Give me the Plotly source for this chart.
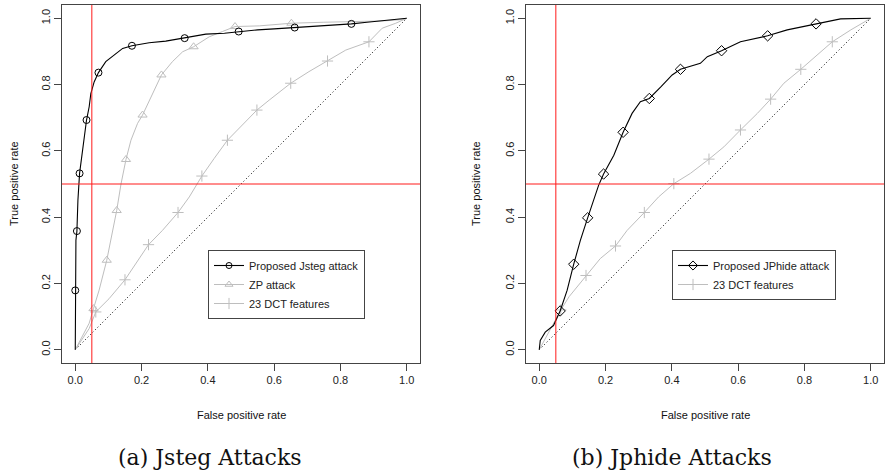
import plotly.graph_objects as go

# ---------------- data ----------------
# (a) Jsteg attacks
jsteg_x = [0, 0, 0, 0.002, 0.005, 0.008, 0.013, 0.027, 0.034, 0.042, 0.047, 0.057, 0.07,
           0.092, 0.117, 0.143, 0.171, 0.223, 0.273, 0.33, 0.394, 0.45, 0.493, 0.55, 0.60,
           0.662, 0.72, 0.78, 0.833, 0.88, 0.93, 0.97, 1.0]
jsteg_y = [0, 0.179, 0.26, 0.33, 0.358, 0.45, 0.532, 0.632, 0.693, 0.733, 0.773, 0.808, 0.836,
           0.869, 0.889, 0.909, 0.917, 0.926, 0.931, 0.94, 0.952, 0.955, 0.96, 0.965, 0.968,
           0.972, 0.975, 0.978, 0.983, 0.988, 0.993, 0.997, 1.0]
jsteg_mx = [0, 0.005, 0.013, 0.034, 0.07, 0.171, 0.33, 0.493, 0.662, 0.833]
jsteg_my = [0.179, 0.358, 0.532, 0.693, 0.836, 0.917, 0.94, 0.96, 0.972, 0.983]

zp_x = [0, 0.02, 0.042, 0.055, 0.072, 0.095, 0.112, 0.125, 0.138, 0.153, 0.168, 0.188, 0.203,
        0.228, 0.26, 0.293, 0.324, 0.357, 0.404, 0.444, 0.482, 0.555, 0.652, 0.75, 0.85,
        0.93, 0.987, 1.0]
zp_y = [0, 0.04, 0.08, 0.124, 0.18, 0.27, 0.35, 0.42, 0.50, 0.574, 0.632, 0.683, 0.708,
        0.763, 0.829, 0.869, 0.899, 0.914, 0.944, 0.96, 0.975, 0.977, 0.985, 0.988, 0.99,
        0.992, 0.996, 1.0]
zp_mx = [0.055, 0.095, 0.125, 0.153, 0.203, 0.26, 0.357, 0.482, 0.652]
zp_my = [0.124, 0.27, 0.42, 0.574, 0.708, 0.829, 0.914, 0.975, 0.985]

dcta_x = [0, 0.012, 0.042, 0.062, 0.102, 0.15, 0.193, 0.221, 0.263, 0.31, 0.344, 0.382, 0.419,
          0.459, 0.504, 0.548, 0.585, 0.65, 0.705, 0.761, 0.816, 0.886, 0.926, 0.967, 1.0]
dcta_y = [0, 0.018, 0.064, 0.114, 0.154, 0.211, 0.275, 0.317, 0.36, 0.414, 0.461, 0.524, 0.577,
          0.632, 0.678, 0.723, 0.753, 0.804, 0.839, 0.871, 0.904, 0.929, 0.97, 0.985, 1.0]
dcta_mx = [0.062, 0.15, 0.221, 0.31, 0.382, 0.459, 0.548, 0.65, 0.761, 0.886]
dcta_my = [0.114, 0.211, 0.317, 0.414, 0.524, 0.632, 0.723, 0.804, 0.871, 0.929]

# (b) Jphide attacks
jph_x = [0, 0.003, 0.018, 0.043, 0.063, 0.084, 0.104, 0.124, 0.146, 0.164, 0.179, 0.194, 0.225,
         0.253, 0.28, 0.305, 0.332, 0.366, 0.401, 0.426, 0.486, 0.507, 0.55, 0.607, 0.689,
         0.748, 0.835, 0.909, 1.0]
jph_y = [0, 0.028, 0.053, 0.073, 0.117, 0.179, 0.258, 0.33, 0.398, 0.451, 0.496, 0.53, 0.587,
         0.656, 0.713, 0.748, 0.758, 0.792, 0.829, 0.846, 0.864, 0.884, 0.902, 0.929, 0.947,
         0.965, 0.983, 0.998, 1.0]
jph_mx = [0.063, 0.104, 0.146, 0.194, 0.253, 0.332, 0.426, 0.55, 0.689, 0.835]
jph_my = [0.117, 0.258, 0.398, 0.53, 0.656, 0.758, 0.846, 0.902, 0.947, 0.983]

dctb_x = [0, 0.033, 0.065, 0.09, 0.141, 0.184, 0.23, 0.265, 0.317, 0.36, 0.406, 0.456, 0.512,
          0.557, 0.607, 0.658, 0.698, 0.738, 0.789, 0.839, 0.884, 0.94, 1.0]
dctb_y = [0, 0.063, 0.12, 0.16, 0.224, 0.275, 0.313, 0.36, 0.414, 0.461, 0.501, 0.532, 0.575,
          0.612, 0.663, 0.713, 0.756, 0.804, 0.846, 0.889, 0.929, 0.965, 1.0]
dctb_mx = [0.065, 0.141, 0.23, 0.317, 0.406, 0.512, 0.607, 0.698, 0.789, 0.884]
dctb_my = [0.12, 0.224, 0.313, 0.414, 0.501, 0.575, 0.663, 0.756, 0.846, 0.929]

diag = [0, 1]
ticks = [0.0, 0.2, 0.4, 0.6, 0.8, 1.0]
tick_text = ["0.0", "0.2", "0.4", "0.6", "0.8", "1.0"]
fpr_cut = 0.05
tpr_cut = 0.5

GREY = "#BEBEBE"
BLACK = "black"
RED = "#FF1A1A"
FONT = "Liberation Sans, Arial, sans-serif"
SERIF = "DejaVu Serif, serif"

fig = go.Figure()


def add_curve(x, y, mx, my, color, symbol, msize, xa, ya, width=1):
    fig.add_trace(go.Scatter(x=x, y=y, mode="lines", line=dict(color=color, width=width),
                             xaxis=xa, yaxis=ya, showlegend=False, hoverinfo="skip"))
    fig.add_trace(go.Scatter(x=mx, y=my, mode="markers",
                             marker=dict(symbol=symbol, size=msize, color=color,
                                         line=dict(color=color, width=1)),
                             xaxis=xa, yaxis=ya, showlegend=False, hoverinfo="skip"))


def add_legend(name, color, symbol, msize, legend, width=1):
    fig.add_trace(go.Scatter(x=[None], y=[None], mode="lines+markers", name=name,
                             line=dict(color=color, width=width),
                             marker=dict(symbol=symbol, size=msize, color=color,
                                         line=dict(color=color, width=1)),
                             legend=legend, xaxis="x", yaxis="y"))


# diagonals
for xa, ya in (("x", "y"), ("x2", "y2")):
    fig.add_trace(go.Scatter(x=diag, y=diag, mode="lines",
                             line=dict(color=BLACK, width=1, dash="1px,2.5px"),
                             xaxis=xa, yaxis=ya, showlegend=False, hoverinfo="skip"))

# (a)
add_curve(dcta_x, dcta_y, dcta_mx, dcta_my, GREY, "cross-thin-open", 8, "x", "y")
add_curve(zp_x, zp_y, zp_mx, zp_my, GREY, "triangle-up-open", 8, "x", "y")
add_curve(jsteg_x, jsteg_y, jsteg_mx, jsteg_my, BLACK, "circle-open", 7, "x", "y", 1.1)
# (b)
add_curve(dctb_x, dctb_y, dctb_mx, dctb_my, GREY, "cross-thin-open", 8, "x2", "y2")
add_curve(jph_x, jph_y, jph_mx, jph_my, BLACK, "diamond-open", 8, "x2", "y2", 1.1)

add_legend("Proposed Jsteg attack", BLACK, "circle-open", 6, "legend", 1.1)
add_legend("ZP attack", GREY, "triangle-up-open", 7, "legend")
add_legend("23 DCT features", GREY, "cross-thin-open", 8, "legend")
add_legend("Proposed JPhide attack", BLACK, "diamond-open", 7, "legend2", 1.1)
add_legend("23 DCT features", GREY, "cross-thin-open", 8, "legend2")

W, H = 886, 474
xd1 = [62 / W, 420 / W]
xd2 = [526 / W, 884 / W]
yd = [1 - 363 / H, 1 - 5 / H]

axis_common = dict(range=[-0.04, 1.04], showgrid=False, zeroline=False, showline=True,
                   mirror=True, linecolor="#444444", linewidth=1, ticks="outside",
                   ticklen=7, tickcolor="#444444", tickvals=ticks, ticktext=tick_text,
                   tickfont=dict(family=FONT, size=11, color="#222222"), automargin=False)

legend_common = dict(xanchor="left", yanchor="top", bordercolor="#444444", borderwidth=1,
                     bgcolor="white", font=dict(family=FONT, size=11, color="#222222"),
                     itemwidth=30, tracegroupgap=0)

fig.update_layout(
    width=W, height=H, margin=dict(l=0, r=0, t=0, b=0),
    paper_bgcolor="white", plot_bgcolor="white",
    xaxis=dict(domain=xd1, anchor="y", **axis_common),
    yaxis=dict(domain=yd, anchor="x", tickangle=-90, **axis_common),
    xaxis2=dict(domain=xd2, anchor="y2", **axis_common),
    yaxis2=dict(domain=yd, anchor="x2", tickangle=-90, **axis_common),
    legend=dict(x=208 / W, y=1 - 250 / H, **legend_common),
    legend2=dict(x=672 / W, y=1 - 250 / H, **legend_common),
)

# reference lines
for xa, ya in (("x", "y"), ("x2", "y2")):
    fig.add_shape(type="line", xref=xa, yref=ya + " domain", x0=fpr_cut, x1=fpr_cut, y0=0, y1=1,
                  line=dict(color=RED, width=1))
    fig.add_shape(type="line", xref=xa + " domain", yref=ya, x0=0, x1=1, y0=tpr_cut, y1=tpr_cut,
                  line=dict(color=RED, width=1))

# axis titles and captions
ann = [
    dict(text="False positive rate", x=241 / W, y=1 - 415 / H, size=11, fam=FONT, angle=0),
    dict(text="False positive rate", x=705 / W, y=1 - 415 / H, size=11, fam=FONT, angle=0),
    dict(text="True positive rate", x=14 / W, y=1 - 184 / H, size=11, fam=FONT, angle=-90),
    dict(text="True positive rate", x=476 / W, y=1 - 184 / H, size=11, fam=FONT, angle=-90),
    dict(text="(a) Jsteg Attacks", x=210 / W, y=1 - 457 / H, size=22, fam=SERIF, angle=0),
    dict(text="(b) Jphide Attacks", x=672 / W, y=1 - 457 / H, size=22, fam=SERIF, angle=0),
]
for a in ann:
    fig.add_annotation(text=a["text"], x=a["x"], y=a["y"], xref="paper", yref="paper",
                       xanchor="center", yanchor="middle", showarrow=False, textangle=a["angle"],
                       font=dict(family=a["fam"], size=a["size"], color="#111111"))

fig.write_html("out.html")
